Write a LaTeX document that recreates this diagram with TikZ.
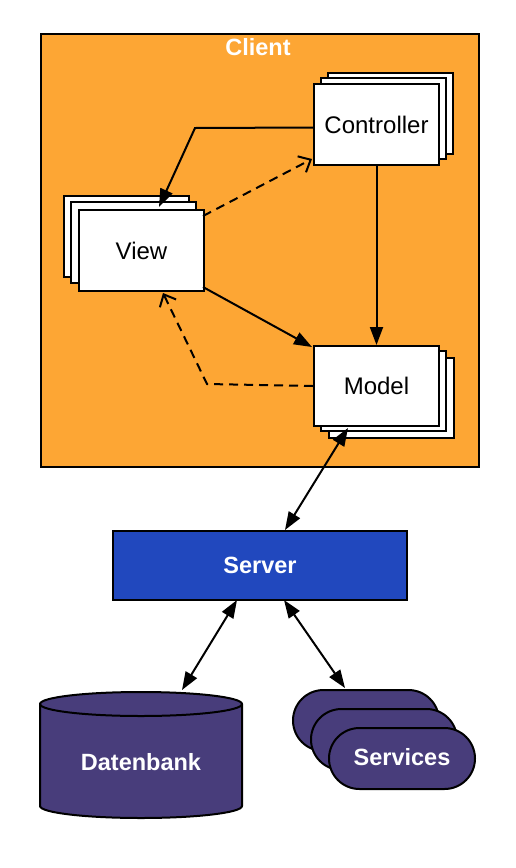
\documentclass[tikz,border=0pt]{standalone}
\usepackage{fontspec}
\setmainfont{Liberation Sans}
\usetikzlibrary{arrows.meta,calc}
\definecolor{clientorange}{RGB}{253,166,52}
\definecolor{serverblue}{RGB}{33,72,190}
\definecolor{dbpurple}{RGB}{72,61,123}
\tikzset{
  lbl/.style={font=\fontsize{24}{28}\selectfont},
  wlbl/.style={font=\fontsize{23.5}{28}\selectfont\bfseries, text=white},
  card/.style={draw=black, line width=2pt, fill=white},
  frontcard/.style={card, minimum width=125pt, minimum height=81pt, inner sep=0pt, lbl},
  pill/.style={draw=black, line width=2pt, fill=dbpurple, rounded corners=30.5pt},
  solidarr/.style={line width=2pt, -{Triangle[length=18pt,width=13pt]}},
  bothsolid/.style={line width=2pt, {Triangle[length=18pt,width=13pt]}-{Triangle[length=18pt,width=13pt]}},
  dasharr/.style={line width=2pt, dash pattern=on 9pt off 6pt, -{Straight Barb[length=10pt,width=18pt]}},
}
\begin{document}
\begin{tikzpicture}[x=1pt,y=-1pt]
\useasboundingbox (0,0) rectangle (516,868);
% Client area
\node[draw=black, line width=2pt, fill=clientorange, minimum width=438pt, minimum height=433pt, inner sep=0pt, anchor=north west] (client) at (40,33) {};
\node[wlbl] (clienttitle) at (258,47) {Client};
% Controller stack
\draw[card] (328,73) rectangle (453,154);
\draw[card] (321,78) rectangle (446,159);
\node[frontcard, anchor=north west] (ctrl) at (313,83) {Controller};
% View stack
\draw[card] (64,196) rectangle (189,277);
\draw[card] (71,202) rectangle (196,283);
\node[frontcard, anchor=north west] (view) at (78,209) {View};
% Model stack
\draw[card] (329,358) rectangle (454,438);
\draw[card] (321,351) rectangle (446,431);
\node[frontcard, minimum height=80pt, anchor=north west] (model) at (313,345) {Model};
% Server
\node[draw=black, line width=2pt, fill=serverblue, minimum width=294pt, minimum height=69pt, inner sep=0pt, wlbl, anchor=north west] (server) at (112,530) {Server};
% Datenbank cylinder
\draw[draw=black, line width=2pt, fill=dbpurple] (40,704) -- (40,806) arc[start angle=180, end angle=360, x radius=101pt, y radius=12pt] -- (242,704) arc[start angle=0, end angle=180, x radius=101pt, y radius=12pt] -- cycle;
\draw[line width=2pt] (40,704) arc[start angle=180, end angle=360, x radius=101pt, y radius=12pt];
\node[wlbl] (db) at (141,762) {Datenbank};
% Services stack
\draw[pill] (293,690) rectangle (439,751);
\draw[pill] (311,709) rectangle (457,770);
\draw[pill] (329,728) rectangle (475,789);
\node[wlbl] (services) at (402,757) {Services};
% Connector end points
\coordinate (cv1) at (195,128);
\coordinate (viewtip) at (159,207);
\coordinate (vc0) at (203,216);
\coordinate (ctip) at (312,159);
\coordinate (vm0) at (203,287);
\coordinate (mtip) at (312,347);
\coordinate (mv1) at (207,384);
\coordinate (vtip2) at (163,293);
\coordinate (ms1) at (348,428);
\coordinate (ms2) at (285,530);
\coordinate (sd1) at (237,600);
\coordinate (sd2) at (182,690);
\coordinate (ss1) at (284,600);
\coordinate (ss2) at (345,688);
% Connectors
\draw[solidarr] ($(ctrl.west)+(0,3)$) -- (cv1) -- (viewtip);
\draw[dasharr] (vc0) -- (ctip);
\draw[solidarr] (vm0) -- (mtip);
\draw[dasharr] (model.west) -- (mv1) -- (vtip2);
\draw[solidarr] (ctrl.south) -- (model.north);
\draw[bothsolid] (ms1) -- (ms2);
\draw[bothsolid] (sd1) -- (sd2);
\draw[bothsolid] (ss1) -- (ss2);
\end{tikzpicture}
\end{document}
